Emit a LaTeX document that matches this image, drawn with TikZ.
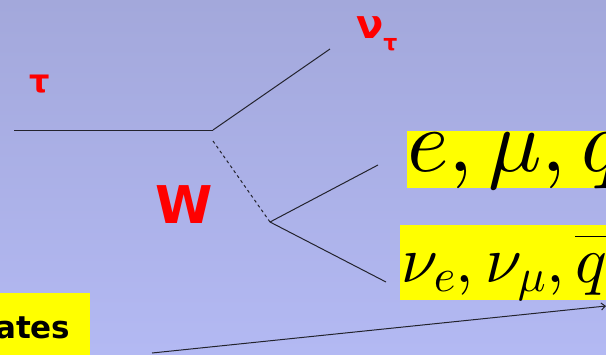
\RequirePackage{fix-cm}
\documentclass[tikz,border=0pt]{standalone}
\usepackage{fontspec}
\newfontfamily\labelfont{DejaVu Sans}
\usetikzlibrary{arrows.meta}
\DeclareFontShape{OML}{cmm}{m}{it}{<->cmmi10}{}
\DeclareFontShape{OMS}{cmsy}{m}{n}{<->cmsy10}{}
\DeclareFontShape{OT1}{cmr}{m}{n}{<->cmr10}{}
\definecolor{bgtop}{RGB}{163,168,219}
\definecolor{bgbot}{RGB}{179,185,243}
\definecolor{lbl}{RGB}{255,0,0}
\definecolor{hl}{RGB}{255,255,0}
\definecolor{ln}{RGB}{35,35,45}
\tikzset{
  prop/.style={draw=ln, line width=1pt},
  wprop/.style={draw=ln, line width=1pt, dash pattern=on 3pt off 3pt},
  redlabel/.style={text=lbl, inner sep=0pt, font=\labelfont\bfseries},
  hlbox/.style={fill=hl, draw=none},
  mathtext/.style={inner sep=0pt, anchor=base west},
}
\begin{document}
\begin{tikzpicture}[x=1pt,y=-1pt]
\useasboundingbox (0,0) rectangle (606,354);
\clip (0,0) rectangle (606,354);
\shade[top color=bgtop, bottom color=bgbot] (0,0) rectangle (606,354);
% vertices
\coordinate (tin) at (14,130);
\coordinate (v1) at (213,130);
\coordinate (ntau) at (330,49);
\coordinate (wstart) at (213,141);
\coordinate (v2) at (270,222);
\coordinate (f1) at (378,165);
\coordinate (f2) at (386,282);
\coordinate (astart) at (152,353);
\coordinate (aend) at (606,306);
\draw[prop] (tin) -- (v1);
\draw[prop] (v1) -- (ntau);
\draw[wprop] (wstart) -- (v2);
\draw[prop] (v2) -- (f1);
\draw[prop] (v2) -- (f2);
% highlight boxes
\fill[hlbox] (407,131) rectangle (620,188);
\fill[hlbox] (400,225) rectangle (620,300);
\fill[hlbox] (-5,293) rectangle (90,360);
\node[mathtext, font=\fontsize{89}{91}\selectfont] (lep) at (407,171) {$e,\mu,q$};
\node[mathtext, font=\fontsize{66}{68}\selectfont] (nus) at (401,282) {$\nu_e,\nu_\mu,\overline{q'}$};
\node[inner sep=0pt, anchor=base west, font=\labelfont\bfseries\fontsize{31}{33}\selectfont] (ates) at (-5,338) {ates};
\draw[ln, line width=1pt, -{Straight Barb[length=4pt,width=7pt]}] (astart) -- (aend);
% labels
\node[redlabel, font=\labelfont\bfseries\fontsize{32}{34}\selectfont, anchor=base] (tau) at (40,92) {τ};
\node[redlabel, font=\labelfont\bfseries\fontsize{40}{42}\selectfont, anchor=base west] (nut) at (356,38) {ν\raisebox{-0.3em}{\fontsize{22}{24}\selectfont τ}};
\node[redlabel, font=\labelfont\bfseries\fontsize{52}{54}\selectfont, anchor=base] (W) at (184,223) {W};
\end{tikzpicture}
\end{document}
